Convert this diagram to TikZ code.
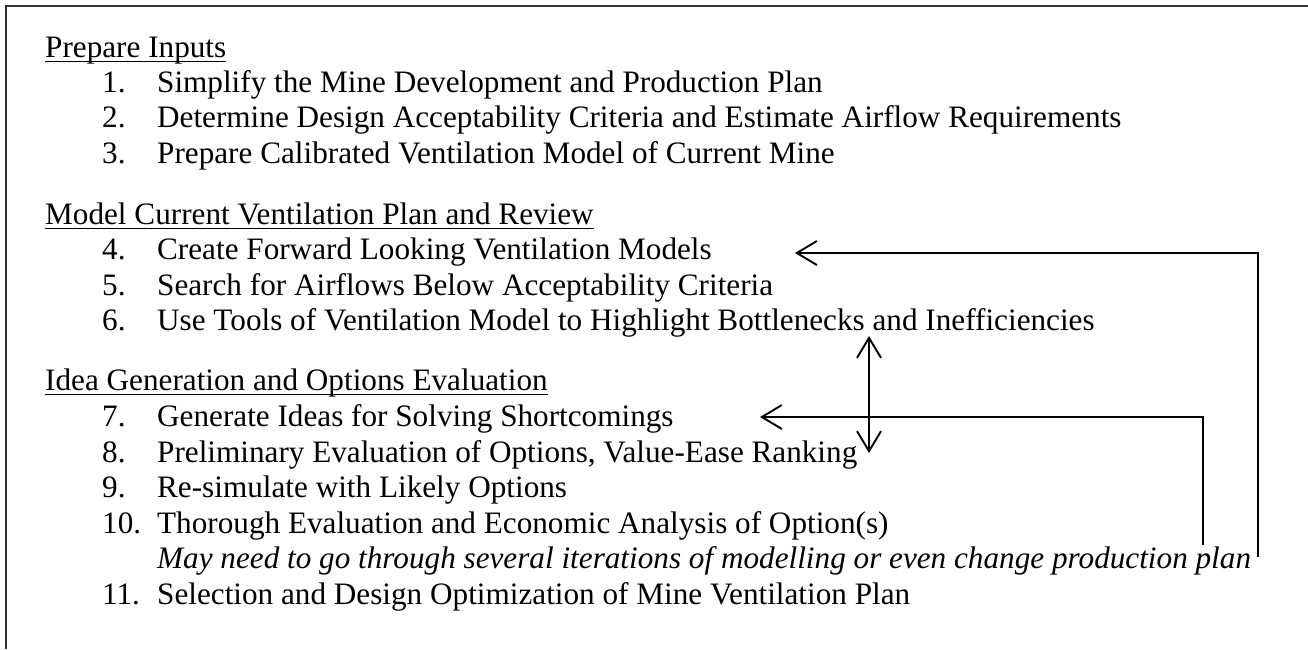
\documentclass[tikz,border=0pt]{standalone}
\usepackage{fontspec}
\setmainfont{Liberation Serif}
\usetikzlibrary{arrows.meta}

% numbers sit in a fixed column, text starts after it
\newcommand{\stepno}[1]{\makebox[55pt][l]{#1}}

\begin{document}
\begin{tikzpicture}[
    x=1pt, y=-1pt,
    font=\fontsize{31.2}{36}\selectfont,
    txt/.style={inner sep=0pt, anchor=base west},
    head/.style={txt},
    item/.style={txt},
    note/.style={txt, font=\fontsize{31.2}{36}\selectfont\itshape},
    frame/.style={draw=black!80, line width=1.6pt},
    uline/.style={line width=1.4pt},
    barb/.tip={Straight Barb[length=20pt, width=24pt, line width=1.9pt]},
    fb/.style={line width=1.9pt, -barb},
    fbb/.style={line width=1.9pt, barb-barb}
]
\useasboundingbox (0,0) rectangle (1308,649);

% open frame, top and left only
\draw[frame] (1308,6) -- (6,6) -- (6,649);

% Prepare inputs
\node[head] (h1) at (45,57) {Prepare Inputs};
\node[item] (i1) at (102,92) {\stepno{1.}Simplify the Mine Development and Production Plan};
\node[item] (i2) at (102,127.5) {\stepno{2.}Determine Design Acceptability Criteria and Estimate Airflow Requirements};
\node[item] (i3) at (102,163) {\stepno{3.}Prepare Calibrated Ventilation Model of Current Mine};

% Model current plan
\node[head] (h2) at (45,224) {Model Current Ventilation Plan and Review};
\node[item] (i4) at (102,259.5) {\stepno{4.}Create Forward Looking Ventilation Models};
\node[item] (i5) at (102,295) {\stepno{5.}Search for Airflows Below Acceptability Criteria};
\node[item] (i6) at (102,330.5) {\stepno{6.}Use Tools of Ventilation Model to Highlight Bottlenecks and Inefficiencies};

% Ideas and options
\node[head] (h3) at (45,390) {Idea Generation and Options Evaluation};
\node[item] (i7) at (102,426.5) {\stepno{7.}Generate Ideas for Solving Shortcomings};
\node[item] (i8) at (102,462) {\stepno{8.}Preliminary Evaluation of Options, Value-Ease Ranking};
\node[item] (i9) at (102,497.5) {\stepno{9.}Re-simulate with Likely Options};
\node[item] (i10) at (102,533) {\stepno{10.}Thorough Evaluation and Economic Analysis of Option(s)};
\node[note] (n10) at (157,568.5) {May need to go through several iterations of modelling or even change production plan};
\node[item] (i11) at (102,604) {\stepno{11.}Selection and Design Optimization of Mine Ventilation Plan};

% underlines
\foreach \h in {h1,h2,h3}
    \draw[uline] ([yshift=-4.5pt]\h.base west) -- ([yshift=-4.5pt]\h.base east);

% loop ends
\coordinate (outer) at (1258,557);
\coordinate (inner) at (1203,545);
\coordinate (to4) at (795,253);
\coordinate (to7) at (760,417);
\coordinate (up) at (869,336);
\coordinate (down) at (869,453);

\draw[fb] (outer) |- (to4);
\draw[fb] (inner) |- (to7);
\draw[fbb] (down) -- (up);

\end{tikzpicture}
\end{document}
